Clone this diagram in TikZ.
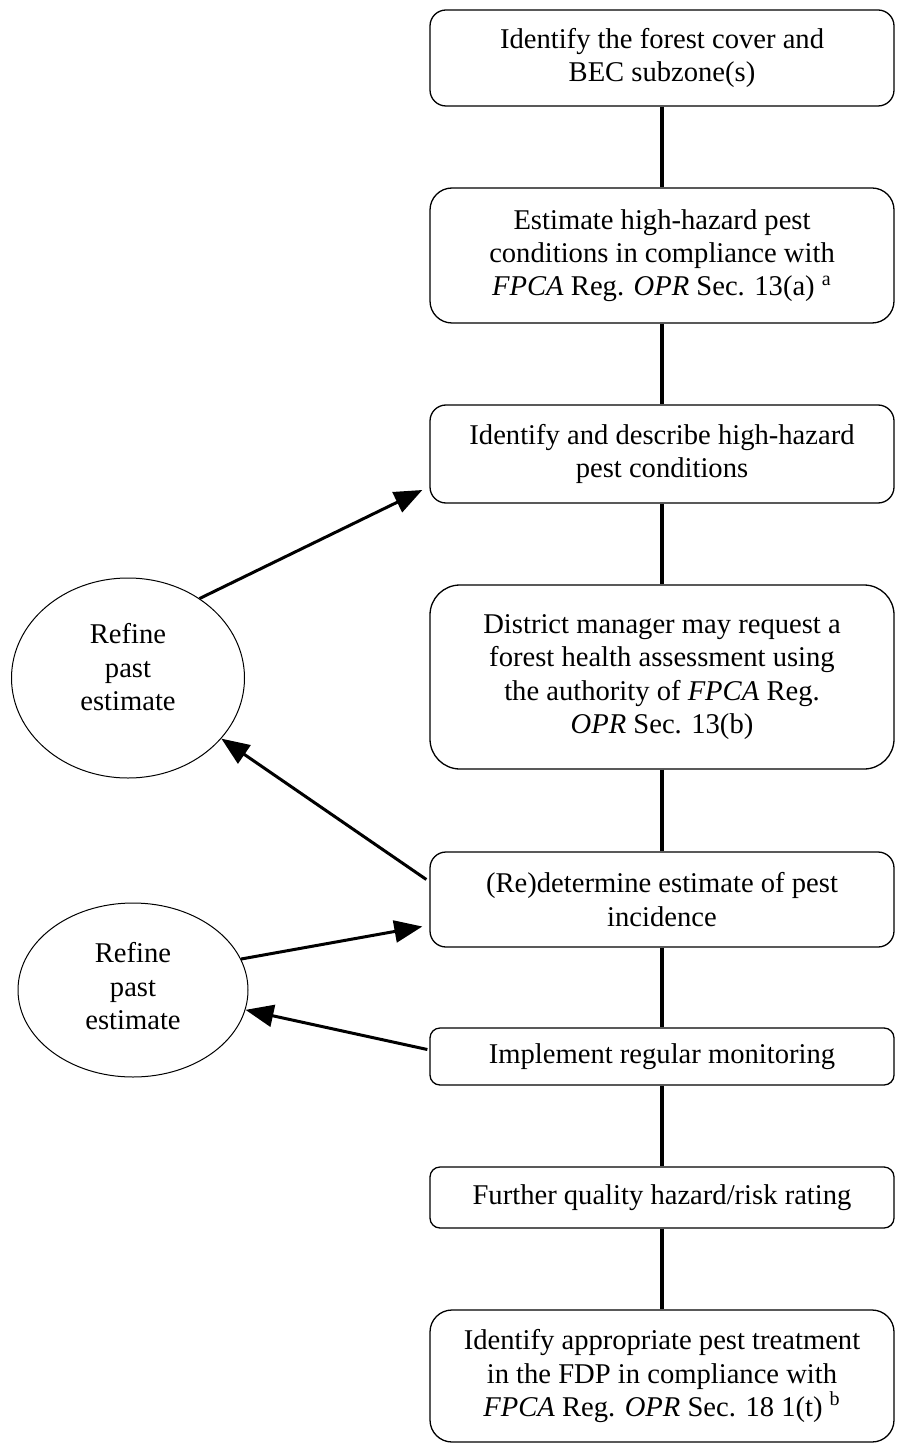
\documentclass[tikz,border=0pt]{standalone}
\usepackage{fontspec}
\setmainfont{Liberation Serif}
\usetikzlibrary{shapes.geometric,arrows.meta,calc}

\begin{document}
\begin{tikzpicture}[x=0.5pt, y=-0.5pt, line join=round, >={Triangle[length=14pt,width=11pt]},
	font=\fontsize{14.3}{16.6}\selectfont,
	box/.style={draw, line width=0.65pt, align=center, minimum width=232pt, inner sep=0pt},
	oval/.style={draw, ellipse, line width=0.5pt, align=center, inner sep=0pt},
	link/.style={line width=1.7pt},
	arr/.style={line width=1.5pt, ->}]
	\useasboundingbox (0,0) rectangle (896,1443);
	\def\cx{662}
	% main column
	\node[box, minimum height=48pt, rounded corners=8pt] (b1) at (\cx,58) {Identify the forest cover and\\BEC subzone(s)};
	\node[box, minimum height=67.5pt, rounded corners=11pt] (b2) at (\cx,255.5) {Estimate high-hazard pest\\conditions in compliance with\\\textit{FPCA} Reg. \textit{OPR} Sec. 13(a) \textsuperscript{a}};
	\node[box, minimum height=49pt, rounded corners=8pt] (b3) at (\cx,454) {Identify and describe high-hazard\\pest conditions};
	\node[box, minimum height=92pt, rounded corners=15pt] (b4) at (\cx,677) {District manager may request a\\forest health assessment using\\the authority of \textit{FPCA} Reg.\\\textit{OPR} Sec. 13(b)};
	\node[box, minimum height=47.5pt, rounded corners=8pt] (b5) at (\cx,899.5) {(Re)determine estimate of pest\\incidence};
	\node[box, minimum height=28.5pt, rounded corners=5pt] (b6) at (\cx,1056.5) {Implement regular monitoring};
	\node[box, minimum height=30.5pt, rounded corners=5pt] (b7) at (\cx,1197.5) {Further quality hazard/risk rating};
	\node[box, minimum height=66pt, rounded corners=11pt] (b8) at (\cx,1376) {Identify appropriate pest treatment\\in the FDP in compliance with\\\textit{FPCA} Reg. \textit{OPR} Sec. 18 1(t) \textsuperscript{b}};
	\foreach \a/\b in {b1/b2,b2/b3,b3/b4,b4/b5,b5/b6,b6/b7,b7/b8}
		\draw[link] (\a) -- (\b);
	% feedback loops
	\node[oval, minimum width=116.5pt, minimum height=100pt, text depth=11pt] (ea) at (128,678) {Refine\\past\\estimate};
	\node[oval, minimum width=115pt, minimum height=87pt, text depth=4pt] (eb) at (133,990) {Refine\\past\\estimate};
	\draw[arr] (ea.48) -- ($(b3.west)+(-7,36)$);
	\draw[arr] ($(b5.west)+(-3,-20)$) -- (ea.-33);
	\draw[arr] (eb.16) -- ($(b5.west)+(-7,27)$);
	\draw[arr] ($(b6.west)+(-2,-7)$) -- (eb.-10);
\end{tikzpicture}
\end{document}
